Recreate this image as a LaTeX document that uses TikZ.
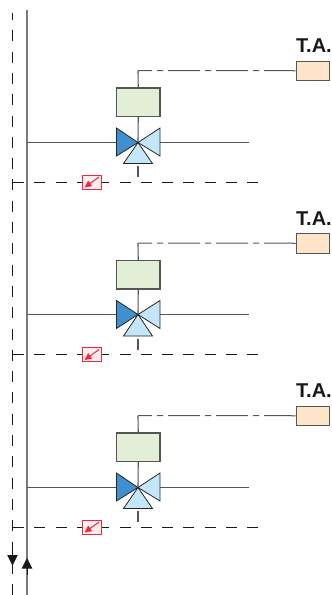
\documentclass[tikz,border=0pt]{standalone}
\usepackage{fontspec}
\setmainfont{Liberation Sans}
\usetikzlibrary{arrows.meta}
\definecolor{pipegray}{RGB}{85,85,85}
\definecolor{railgray}{RGB}{120,120,120}
\definecolor{actgreen}{RGB}{226,238,214}
\definecolor{tapeach}{RGB}{254,228,200}
\definecolor{valveblue}{RGB}{64,144,208}
\definecolor{valvelight}{RGB}{196,230,250}
\definecolor{alarmred}{RGB}{240,40,60}
\definecolor{alarmfill}{RGB}{255,238,238}
\tikzset{
  x=1pt,y=-1pt,
  pipeline/.style={draw=pipegray,line width=1.1pt},
  rail/.style={draw=railgray,line width=1.5pt},
  signal/.style={draw=pipegray,line width=1pt,dash pattern=on 32pt off 5pt on 6pt off 5pt,dash phase=18pt},
  ctrl/.style={draw=black!90,line width=0.9pt,dash pattern=on 11pt off 10.3pt},
  ctrlv/.style={ctrl,dash phase=4pt},
  actbox/.style={draw=pipegray,line width=1.1pt,fill=actgreen,minimum width=43.5pt,minimum height=28.5pt,inner sep=0pt},
  tabox/.style={draw=pipegray,line width=1pt,fill=tapeach,minimum width=33pt,minimum height=19.5pt,inner sep=0pt},
  redbox/.style={draw=alarmred,line width=1pt,fill=alarmfill,minimum width=19pt,minimum height=14pt,inner sep=0pt},
  talabel/.style={font=\bfseries\fontsize{20}{20}\selectfont,text=black!90,inner sep=0pt},
  valveedge/.style={draw=black!85,line width=0.8pt,line join=miter},
  flowtip/.style={-{Triangle[length=10.5pt,width=10.5pt]},draw=black!90,line width=0.9pt}
}
\begin{document}
\begin{tikzpicture}
\useasboundingbox (0,0) rectangle (332,595);
\coordinate (railtop) at (27,10);
\coordinate (railbot) at (27,595);
\coordinate (railarrow) at (27,558);
\coordinate (dashtop) at (12.5,13);
\coordinate (dashbot) at (12.5,595);
\coordinate (dasharrow) at (12.5,565.5);
\draw[ctrlv] (dashtop) -- (dashbot);
\draw[flowtip] (12.5,545) -- (dasharrow);
\draw[rail] (railtop) -- (railbot);
\draw[flowtip] (27,575) -- (railarrow);
\foreach \i/\d/\p/\q in {a/0/142.5/182.5,b/172.5/142/182,c/345/142.5/182.5}{
  \begin{scope}[yshift=-\d pt]
    \coordinate (v\i) at (138,\p);
    \coordinate (pl\i) at (27,\p);
    \coordinate (pr\i) at (249,\p);
    \coordinate (cl\i) at (13,\q);
    \coordinate (cr\i) at (258,\q);
    \coordinate (st\i) at (138,166);
    \coordinate (sb\i) at (138,177);
    \coordinate (co\i) at (138,70.5);
    \node[actbox] (act\i) at (138.25,102.25) {};
    \node[tabox] (ta\i) at (312.5,70.75) {};
    \node[talabel,anchor=base] (lab\i) at (314,52.5) {T.A.};
    \draw[pipeline] (pl\i) -- (pr\i);
    \draw[ctrl] (cl\i) -- (cr\i);
    \node[redbox] (red\i) at (91.5,182) {};
    \draw[alarmred,line width=1pt,-{Triangle[length=7pt,width=6.5pt]}] (99,177) -- (84.5,187.5);
    \draw[pipeline] (act\i.north) -- (co\i);
    \draw[signal] (co\i) -- (ta\i.west);
    \draw[pipeline] (act\i.south) -- (v\i);
    \draw[pipeline] (st\i) -- (sb\i);
    \draw[valveedge,fill=valvelight] (v\i) -- (123.5,163.5) -- (152.5,163.5) -- cycle;
    \draw[valveedge,fill=valvelight] (v\i) -- (160,128) -- (160,156) -- cycle;
    \draw[valveedge,fill=valveblue] (v\i) -- (116.5,128) -- (116.5,156) -- cycle;
  \end{scope}
}
\end{tikzpicture}
\end{document}
